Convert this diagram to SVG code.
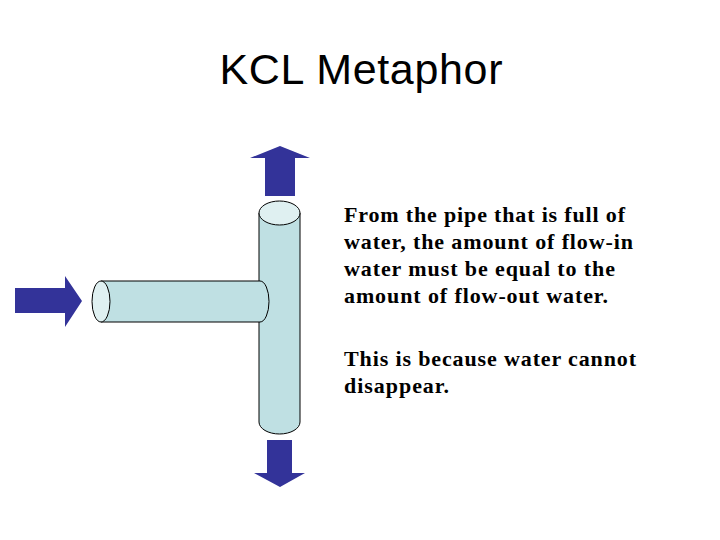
<svg xmlns="http://www.w3.org/2000/svg" width="720" height="540" viewBox="0 0 720 540">
<style>
.arr{fill:#333399}
.pipe{fill:#bfe0e3;stroke:#000;stroke-width:1}
.cap{fill:#dff0f1;stroke:#000;stroke-width:1}
.t{font-family:"Liberation Serif",serif;font-weight:bold;font-size:22px;fill:#000}
</style>
<rect width="720" height="540" fill="#fff"/>
<text x="361" y="84" text-anchor="middle" font-family="Liberation Sans,sans-serif" font-size="43" textLength="283">KCL Metaphor</text>
<g id="vpipe">
<path class="pipe" d="M259,213 V422 A20.5,12 0 0 0 300,422 V213 Z"/>
<ellipse class="cap" cx="279.5" cy="213" rx="20.5" ry="12"/>
</g>
<g id="hpipe">
<path class="pipe" d="M101,281 H260 A9,20.5 0 0 1 260,322 H101 Z"/>
<ellipse class="cap" cx="101" cy="301.5" rx="9" ry="20.5"/>
</g>
<g id="connectors">
<polygon id="arrow-up" class="arr" points="280,146 310,158 295,158 295,196 265,196 265,158 250,158"/>
<polygon id="arrow-down" class="arr" points="280,487 305,473 292,473 292,440 267,440 267,473 254,473"/>
<polygon id="arrow-in" class="arr" points="82,301 65,276 65,288 15,288 15,313 65,313 65,327"/>
</g>
<g id="text">
<text class="t" x="344" y="222" textLength="281">From the pipe that is full of</text>
<text class="t" x="344" y="249" textLength="289">water, the amount of flow-in</text>
<text class="t" x="344" y="276" textLength="271">water must be equal to the</text>
<text class="t" x="344" y="303" textLength="264">amount of flow-out water.</text>
<text class="t" x="344" y="366" textLength="292">This is because water cannot</text>
<text class="t" x="344" y="393" textLength="105">disappear.</text>
</g>
</svg>
